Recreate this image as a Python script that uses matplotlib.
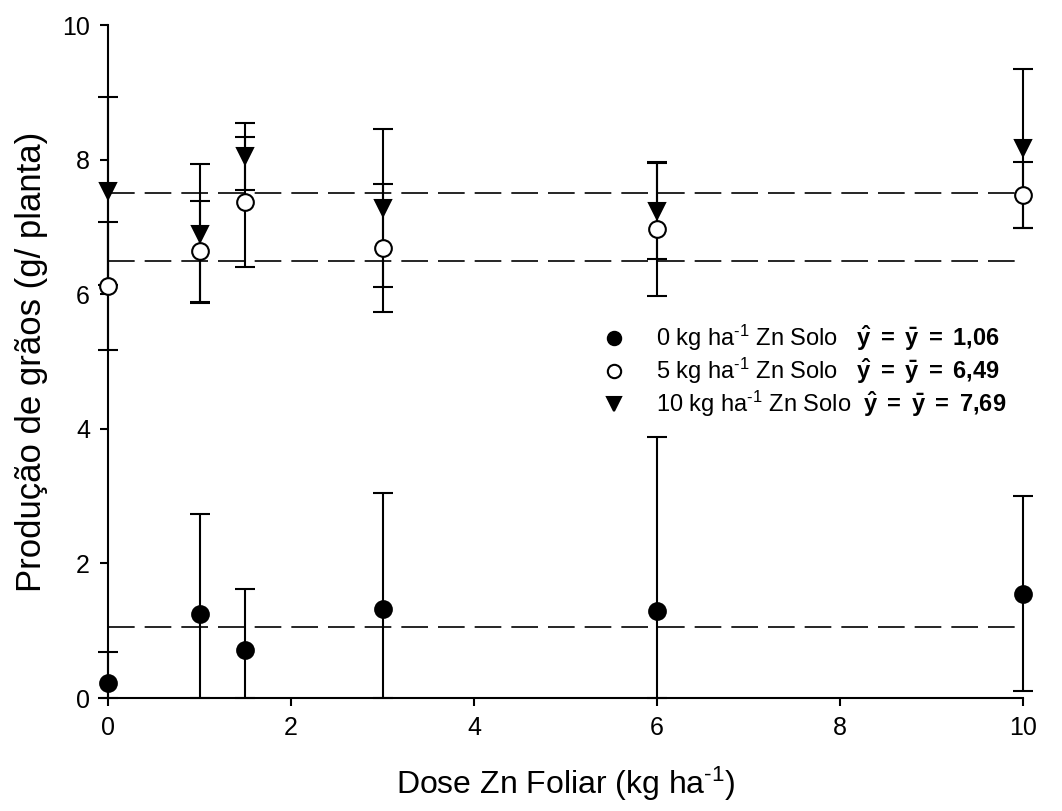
import matplotlib
matplotlib.use("Agg")
import matplotlib.pyplot as plt
import numpy as np

plt.rcParams['font.family'] = ['Liberation Sans', 'DejaVu Sans']
plt.rcParams['mathtext.fontset'] = 'custom'
plt.rcParams['mathtext.rm'] = 'Liberation Sans'
plt.rcParams['mathtext.it'] = 'Liberation Sans:italic'
plt.rcParams['mathtext.bf'] = 'Liberation Sans:bold'

# dose of foliar Zn (kg/ha)
dose = [0, 1, 1.5, 3, 6, 10]

# grain yield (g/plant) and error for each soil Zn dose
y_0 = [0.22, 1.25, 0.72, 1.33, 1.30, 1.55]
err_0 = [0.46, 1.48, 0.90, 1.71, 2.58, 1.45]
y_5 = [6.12, 6.64, 7.37, 6.69, 6.97, 7.48]
err_5 = [0.95, 0.75, 0.96, 0.95, 1.00, 0.49]
y_10 = [7.53, 6.90, 8.05, 7.28, 7.24, 8.17]
err_10 = [1.40, 1.03, 0.50, 1.17, 0.71, 1.18]

# horizontal lines (mean fits) as drawn
fit_lines = [1.06, 6.49, 7.50]
labels = [r"0 kg ha$^{\text{-1}}$ Zn Solo   $\mathbf{\hat{y}\ =\ \bar{y}\ =\ 1{,}06}$",
          r"5 kg ha$^{\text{-1}}$ Zn Solo   $\mathbf{\hat{y}\ =\ \bar{y}\ =\ 6{,}49}$",
          r"10 kg ha$^{\text{-1}}$ Zn Solo  $\mathbf{\hat{y}\ =\ \bar{y}\ =\ 7{,}69}$"]

fig = plt.figure(figsize=(10.62, 8.11), dpi=100)
ax = fig.add_axes([0.1017, 0.1393, 0.8616, 0.8298])

for lvl in fit_lines:
    ax.axhline(lvl, color='black', lw=1.2, dashes=(16, 6), zorder=1)

series = [(y_0, err_0, 'o', 'black'), (y_5, err_5, 'o', 'white'), (y_10, err_10, 'v', 'black')]
handles = []
for (yy, ee, mk, fc), lab in zip(series, labels):
    yy = np.array(yy)
    ee = np.array(ee)
    lower = np.minimum(ee, yy)  # bars stop at the x axis
    eb = ax.errorbar(dose, yy, yerr=[lower, ee], fmt='none', ecolor='black',
                     elinewidth=1.5, capsize=7, capthick=1.5, zorder=2, clip_on=False)
    for art in eb.lines[1] + eb.lines[2]:
        art.set_clip_on(False)
    h, = ax.plot(dose, yy, linestyle='none', marker=mk, markersize=12,
                 markerfacecolor=fc, markeredgecolor='black', markeredgewidth=1.5,
                 clip_on=False, zorder=3, label=lab)
    handles.append(h)

ax.set_xlim(0, 10)
ax.set_ylim(0, 10)
ax.set_xticks([0, 2, 4, 6, 8, 10])
ax.set_yticks([0, 2, 4, 6, 8, 10])
ax.spines['top'].set_visible(False)
ax.spines['right'].set_visible(False)
ax.spines['left'].set_linewidth(1.5)
ax.spines['bottom'].set_linewidth(1.5)
ax.tick_params(direction='out', length=6, width=1.5, labelsize=18, pad=7)

ax.set_xlabel(r"Dose Zn Foliar (kg ha$^{\text{-1}}$)", fontsize=23, labelpad=18)
ax.set_ylabel("Produção de grãos (g/ planta)", fontsize=25, labelpad=10)

ax.legend(handles=handles, loc='upper left', bbox_to_anchor=(0.527, 0.575),
          frameon=False, fontsize=17, markerscale=0.8, handlelength=1.0,
          handletextpad=1.3, labelspacing=0.12, borderpad=0)

fig.savefig("out.png", dpi=100)
